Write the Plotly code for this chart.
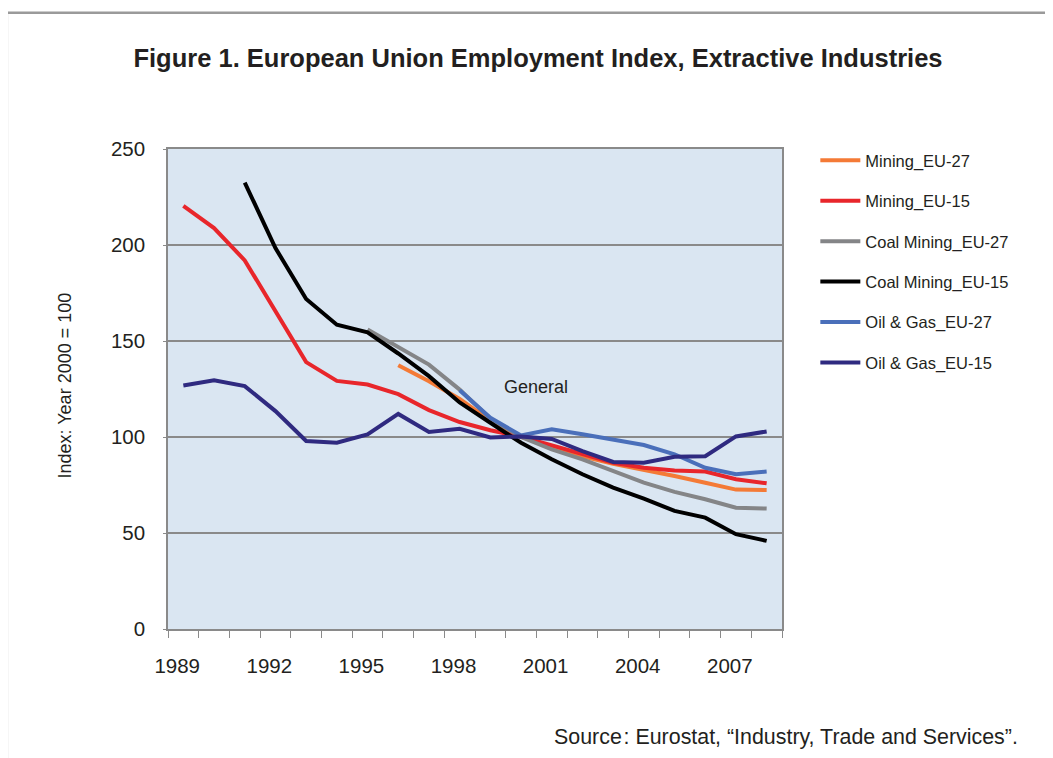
import plotly.graph_objects as go

years = list(range(1989, 2009))
label_years = [1989, 1992, 1995, 1998, 2001, 2004, 2007]

mining_eu27 = [None, None, None, None, None, None, None,
               137.4, 129.0, 119.8, 108.5, 100.0, 95.0, 90.0, 86.0, 83.0, 79.7, 76.2, 72.6, 72.4]
mining_eu15 = [220.4, 208.8, 192.0, 165.0, 139.0, 129.2, 127.3, 122.3, 114.0, 107.8,
               103.5, 100.2, 95.6, 91.3, 86.6, 84.0, 82.6, 82.0, 78.0, 75.9]
coal_eu27 = [None, None, None, None, None, None,
             156.0, 147.0, 137.7, 124.7, 109.5, 100.0, 93.6, 88.4, 82.3, 76.2, 71.4, 67.6, 63.2, 62.7]
coal_eu15 = [None, None, 232.5, 198.4, 171.9, 158.5, 154.5, 143.5, 131.7, 118.0,
             107.4, 97.0, 88.4, 80.6, 73.6, 67.9, 61.5, 58.0, 49.4, 45.9]
oil_eu27 = [None, None, None, None, None, None, None, None, None,
            124.4, 110.0, 100.8, 104.0, 101.4, 98.4, 95.8, 91.0, 84.0, 80.6, 82.0]
oil_eu15 = [126.8, 129.6, 126.5, 113.5, 97.9, 97.0, 101.3, 112.0, 102.6, 104.3,
            99.8, 100.3, 99.0, 92.7, 87.0, 86.6, 89.7, 90.0, 100.3, 102.9]

series = [
    ("Mining_EU-27", mining_eu27, "#f47a36"),
    ("Mining_EU-15", mining_eu15, "#e8262b"),
    ("Coal Mining_EU-27", coal_eu27, "#848587"),
    ("Coal Mining_EU-15", coal_eu15, "#000000"),
    ("Oil & Gas_EU-27", oil_eu27, "#4a6fba"),
    ("Oil & Gas_EU-15", oil_eu15, "#2f2a80"),
]

# page body has an 8px margin; target coordinates below are window pixels
OFF = 8
W, H = 1053 - OFF, 758 - OFF
PL, PR, PT, PB = 168.3, 781.7, 149.0, 629.3  # plot box in window pixels
L = PL - OFF
T = PT - OFF
R = W - (PR - OFF)
B = H - (PB - OFF)
pw, ph = PR - PL, PB - PT


def px(x):
    return (x - PL) / pw


def py(y):
    return (PB - y) / ph


FONT = "Liberation Sans, Arial, Helvetica, sans-serif"
TXT = "#231f20"

fig = go.Figure()
for i, (name, vals, col) in enumerate(series):
    fig.add_trace(go.Scatter(
        x=years, y=vals, name=name, mode="lines",
        line=dict(color=col, width=4), connectgaps=False,
        legendgroup=f"g{i}",
    ))

fig.update_layout(
    width=W, height=H,
    margin=dict(l=L, r=R, t=T, b=B, pad=0),
    paper_bgcolor="white",
    plot_bgcolor="#dae6f2",
    font=dict(family=FONT, color=TXT, size=20),
    title=dict(
        text="<b>Figure 1. European Union Employment Index, Extractive Industries</b>",
        x=(538 - OFF) / W, xanchor="center", y=1 - (58 - OFF) / H, yanchor="middle",
        font=dict(size=25.5, family=FONT, color=TXT),
    ),
    showlegend=True,
    legend=dict(
        x=px(815), xanchor="left", y=py(143), yanchor="top",
        font=dict(size=16.5, family=FONT, color=TXT),
        tracegroupgap=16, traceorder="grouped",
        bgcolor="rgba(0,0,0,0)", itemwidth=40,
    ),
    xaxis=dict(
        range=[1988.5, 2008.5],
        tickmode="array",
        tickvals=[y - 0.2 for y in label_years],
        ticktext=[str(y) for y in label_years],
        ticks="", ticklen=0,
        ticklabelstandoff=18,
        showgrid=False, zeroline=False,
        showline=True, linecolor="#8a8a8a", linewidth=1.5, mirror=True,
        minor=dict(tickmode="linear", tick0=1988.5, dtick=1, ticks="outside",
                   ticklen=7, tickcolor="#8a8a8a", tickwidth=1.2, showgrid=False),
        tickfont=dict(size=20.5, family=FONT, color=TXT),
    ),
    yaxis=dict(
        range=[0, 250],
        tickmode="array",
        tickvals=[0, 50, 100, 150, 200, 250],
        ticks="outside", ticklen=3, tickcolor="#8a8a8a",
        ticklabelstandoff=14,
        showgrid=True, gridcolor="#8a8a8a", gridwidth=1.5,
        zeroline=False,
        showline=True, linecolor="#8a8a8a", linewidth=1.5, mirror=True,
        tickfont=dict(size=20.5, family=FONT, color=TXT),
    ),
)

fig.add_annotation(
    text="Index: Year 2000 = 100", xref="paper", yref="paper",
    x=px(65), y=py(386), xanchor="center", yanchor="middle",
    textangle=-90, showarrow=False, font=dict(size=18, family=FONT, color=TXT),
)
fig.add_annotation(
    text="General", xref="x", yref="y", x=2000.5, y=126,
    xanchor="center", yanchor="middle", showarrow=False,
    font=dict(size=18, family=FONT, color=TXT),
)
fig.add_annotation(
    text="Source\u200a: Eurostat, \u201cIndustry, Trade and Services\u201d.",
    xref="paper", yref="paper", x=px(1019), y=py(737),
    xanchor="right", yanchor="middle", showarrow=False,
    font=dict(size=21.4, family=FONT, color=TXT),
)

# outer frame (top and left edges visible in the reference)
fig.add_shape(type="line", xref="paper", yref="paper",
              x0=px(6.3), x1=px(1060), y0=py(12.7), y1=py(12.7),
              line=dict(color="#9a9a9a", width=2.5))
fig.add_shape(type="line", xref="paper", yref="paper",
              x0=px(7.3), x1=px(7.3), y0=py(11.5), y1=py(770),
              line=dict(color="#9a9a9a", width=2.5))

fig.write_html("out.html")
